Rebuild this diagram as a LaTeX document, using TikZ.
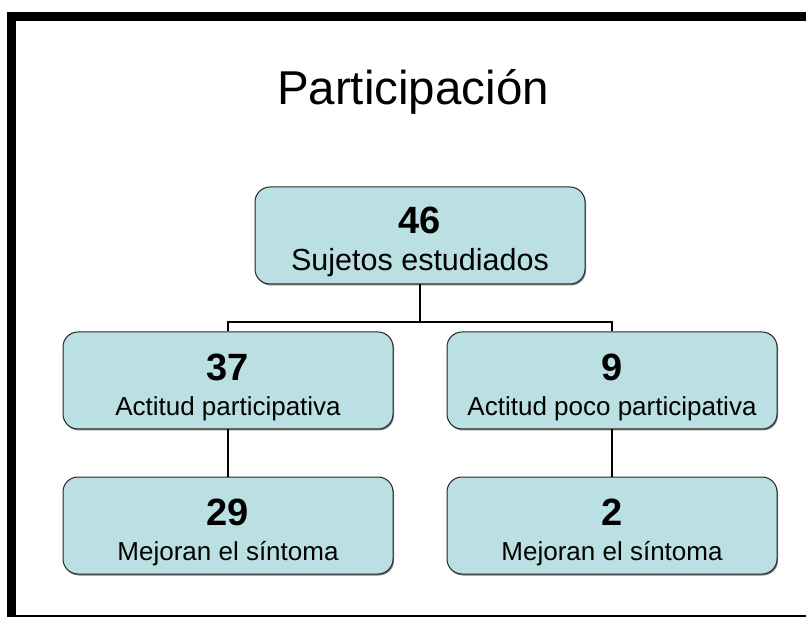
\documentclass[tikz,border=0pt]{standalone}
\usepackage{fontspec}
\setmainfont{Liberation Sans}
\usetikzlibrary{shadows}

\definecolor{boxfill}{RGB}{187,224,227}
\newcommand{\numfont}{\fontsize{38}{35}\selectfont\bfseries}
\newcommand{\labfont}{\fontsize{26}{35}\selectfont}
\newcommand{\toplabfont}{\fontsize{30.5}{37}\selectfont}
\newcommand{\numstrut}{\rule{0pt}{40pt}}

\tikzset{
  box/.style={draw=black!85, line width=1pt, fill=boxfill, rounded corners=15pt,
    minimum width=330pt, minimum height=97pt, align=center, inner sep=0pt,
    font=\labfont,
    drop shadow={shadow xshift=1pt, shadow yshift=-1.5pt, fill=black!55, opacity=0.9}},
  topbox/.style={box, font=\toplabfont},
  link/.style={line width=1.5pt, black}
}

\begin{document}
\begin{tikzpicture}[x=1pt, y=-1pt]
        \useasboundingbox (0,0) rectangle (806,617);
        \fill[white] (0,0) rectangle (806,617);

        % frame
        \fill[black] (7,12) rectangle (16,617);
        \fill[black] (7,12) rectangle (806,21);
        \draw[line width=1.2pt] (16,616) -- (806,616);

        \node[anchor=base, font=\fontsize{47.5}{47.5}\selectfont] (title) at (413,105) {Participación};

        % boxes
        \node[topbox] (total) at (420,235.5) {\numstrut{\numfont 46}\\\toplabfont Sujetos estudiados};
        \node[box] (part) at (228,380.5) {\numstrut{\numfont 37}\\Actitud participativa};
        \node[box] (poco) at (612,380.5) {\numstrut{\numfont 9}\\Actitud poco participativa};
        \node[box] (partmej) at (228,525.5) {\numstrut{\numfont 29}\\Mejoran el síntoma};
        \node[box] (pocomej) at (612,525.5) {\numstrut{\numfont 2}\\Mejoran el síntoma};

        % connectors
        \coordinate (split) at (420,322);
        \draw[link] (total.south) -- (split);
        \draw[link] (part.north) |- (split) -| (poco.north);
        \draw[link] (part.south) -- (partmej.north);
        \draw[link] (poco.south) -- (pocomej.north);
\end{tikzpicture}
\end{document}
